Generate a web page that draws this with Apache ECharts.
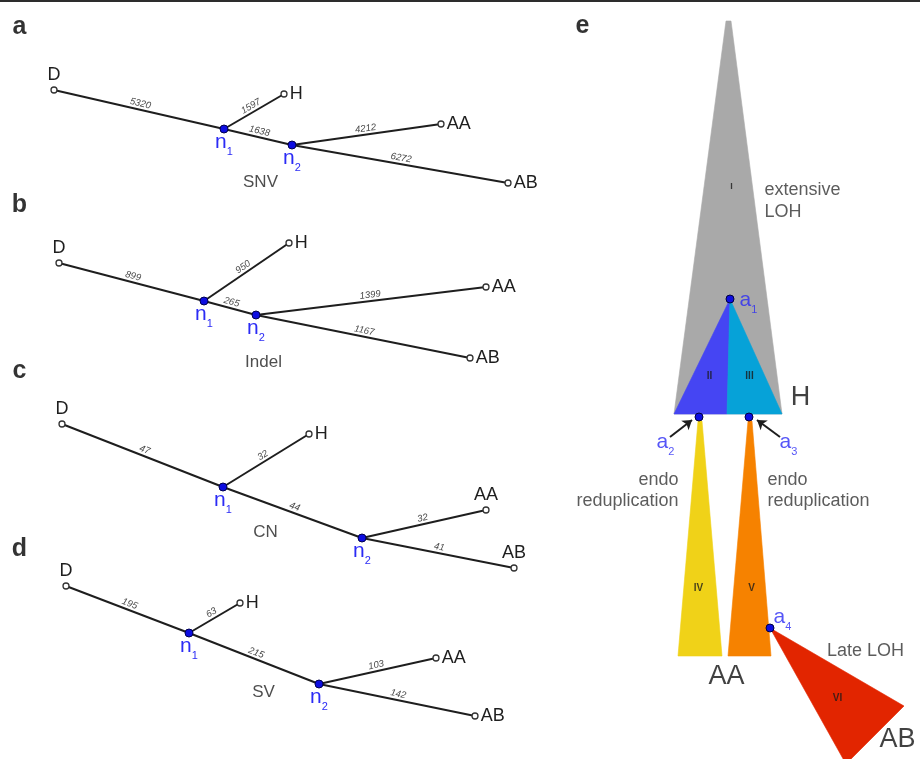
<!DOCTYPE html>
<html>
<head>
<meta charset="utf-8">
<script src="https://cdn.jsdelivr.net/npm/echarts@6/dist/echarts.min.js"></script>
<style>
  html, body { margin: 0; padding: 0; background: #fff; }
  #chart { width: 920px; height: 759px; }
</style>
</head>
<body>
<div id="chart"></div>
<script>
// ---------- Trees a–d: node order D, H, n1, n2, AA, AB ----------
const nodeNames = ['D', 'H', 'n1', 'n2', 'AA', 'AB'];
const edgePairs = [['D', 'n1'], ['n1', 'H'], ['n1', 'n2'], ['n2', 'AA'], ['n2', 'AB']];

const snvX = [54, 284, 224, 292, 441, 508];
const snvY = [90, 94, 129, 145, 124, 183];
const snvBranch = [5320, 1597, 1638, 4212, 6272];

const indelX = [59, 289, 204, 256, 486, 470];
const indelY = [263, 243, 301, 315, 287, 358];
const indelBranch = [899, 950, 265, 1399, 1167];

const cnX = [62, 309, 223, 362, 486, 514];
const cnY = [424, 434, 487, 538, 510, 568];
const cnBranch = [47, 32, 44, 32, 41];

const svX = [66, 240, 189, 319, 436, 475];
const svY = [586, 603, 633, 684, 658, 716];
const svBranch = [195, 63, 215, 103, 142];

const treeTitles = ['SNV', 'Indel', 'CN', 'SV'];

// ---------- Panel e: clone wedges I–VI ----------
const wedgeNames = ['I', 'II', 'III', 'IV', 'V', 'VI'];
const wedgeX = [[726, 731, 782, 674], [730, 727, 674], [730, 782, 727],
                [698, 702, 722, 678], [748, 752, 771, 728], [770, 904, 846]];
const wedgeY = [[21, 21, 414, 414], [299, 414, 414], [299, 414, 414],
                [421, 421, 656, 656], [421, 421, 656, 656], [628, 706, 764]];

// branch points a1–a4
const branchNames = ['a1', 'a2', 'a3', 'a4'];
const branchX = [730, 699, 749, 770];
const branchY = [299, 417, 417, 628];

// arrows pointing at a2 and a3
const arrowStartX = [670, 780];
const arrowStartY = [437, 437];
const arrowEndX = [692, 757];
const arrowEndY = [420, 420];

// ---------- layout (label placement) ----------
const FONT = 'Liberation Sans, Arial, Helvetica, sans-serif';
const BLUE = '#2b2bf5';
const INK = '#1e1e1e';

const treeLayout = [
  { xs: snvX, ys: snvY, br: snvBranch, title: [261, 183], letter: [20, 28], tipTop: ['D'] },
  { xs: indelX, ys: indelY, br: indelBranch, title: [264, 363], letter: [20, 206], tipTop: ['D'] },
  { xs: cnX, ys: cnY, br: cnBranch, title: [266, 533], letter: [20, 372], tipTop: ['D', 'AA', 'AB'] },
  { xs: svX, ys: svY, br: svBranch, title: [264, 693], letter: [20, 550], tipTop: ['D'] }
];

const subRich = (size, subSize, color, pad) => ({
  m: { fontSize: size, color: color, fontFamily: FONT, verticalAlign: 'bottom', padding: [0, 0, pad, 0] },
  s: { fontSize: subSize, color: color, fontFamily: FONT, verticalAlign: 'bottom' }
});

const series = [];

// panel e wedges (drawn first, beneath everything)
series.push({
  type: 'custom',
  clip: false,
  silent: true,
  z: 1,
  data: wedgeX.map((xs, i) => [xs[0], wedgeY[i][0]]),
  encode: { x: 0, y: 1 },
  renderItem: (params, api) => {
    const i = params.dataIndex;
    const colors = ['#a9a9a9', '#4545f3', '#06a2d8', '#f0d218', '#f68200', '#e22500'];
    const pts = wedgeX[i].map((x, k) => api.coord([x, wedgeY[i][k]]));
    return {
      type: 'polygon',
      shape: { points: pts },
      style: { fill: colors[i], stroke: colors[i], lineWidth: 0.6 }
    };
  }
});

// wedge roman numerals
const wedgeLabelX = [732, 710, 750, 699, 752, 838];
const wedgeLabelY = [187, 377, 377, 589, 589, 699];

// trees
treeLayout.forEach((t) => {
  const idx = name => nodeNames.indexOf(name);
  const edges = edgePairs.map((p, k) => {
    let a = idx(p[0]), b = idx(p[1]);
    if (t.xs[a] > t.xs[b]) { const tmp = a; a = b; b = tmp; }
    return { coords: [[t.xs[a], t.ys[a]], [t.xs[b], t.ys[b]]], value: t.br[k] };
  });
  series.push({
    type: 'lines',
    coordinateSystem: 'cartesian2d',
    silent: true,
    z: 2,
    symbol: 'none',
    lineStyle: { color: INK, width: 2, opacity: 1 },
    label: {
      show: true,
      position: 'insideMiddleTop',
      distance: 1,
      formatter: p => String(p.data.value),
      fontSize: 9.5,
      fontStyle: 'italic',
      color: '#4a4a4a',
      fontFamily: FONT
    },
    data: edges
  });

  // tip nodes
  const tips = ['D', 'H', 'AA', 'AB'].map(n => {
    const i = idx(n);
    const top = t.tipTop.includes(n);
    return {
      name: n,
      value: [t.xs[i], t.ys[i]],
      label: { position: top ? 'top' : 'right', distance: 2 }
    };
  });
  series.push({
    type: 'scatter',
    silent: true,
    z: 4,
    symbol: 'circle',
    symbolSize: 6,
    itemStyle: { color: '#fff', borderColor: '#333', borderWidth: 1.3, opacity: 1 },
    label: { show: true, formatter: p => p.name, fontSize: 18, color: INK, fontFamily: FONT },
    data: tips
  });

  // internal nodes n1, n2
  series.push({
    type: 'scatter',
    silent: true,
    z: 4,
    symbol: 'circle',
    symbolSize: 8,
    itemStyle: { color: '#0d0de0', borderColor: '#000050', borderWidth: 1, opacity: 1 },
    label: {
      show: true,
      position: 'bottom',
      distance: -2,
      formatter: p => '{m|n}{s|' + p.name.slice(1) + '}',
      rich: subRich(21, 11, BLUE, 5)
    },
    data: ['n1', 'n2'].map(n => ({ name: n, value: [t.xs[idx(n)], t.ys[idx(n)]] }))
  });
});

// arrows to a2 / a3
series.push({
  type: 'lines',
  coordinateSystem: 'cartesian2d',
  silent: true,
  z: 5,
  symbol: ['none', 'arrow'],
  symbolSize: 9,
  lineStyle: { color: INK, width: 2, opacity: 1 },
  data: arrowStartX.map((x, i) => ({ coords: [[x, arrowStartY[i]], [arrowEndX[i], arrowEndY[i]]] }))
});

// branch point dots
series.push({
  type: 'scatter',
  silent: true,
  z: 6,
  symbol: 'circle',
  symbolSize: 8,
  itemStyle: { color: '#0d0de0', borderColor: '#000040', borderWidth: 1, opacity: 1 },
  label: { show: false },
  data: branchX.map((x, i) => ({ name: branchNames[i], value: [x, branchY[i]] }))
});

// free-standing text
const texts = [];
const addText = (x, y, text, opt) => texts.push(Object.assign({ x, y, text }, opt));

['a', 'b', 'c', 'd'].forEach((l, i) =>
  addText(treeLayout[i].letter[0], treeLayout[i].letter[1], l, { size: 25, weight: 'bold', color: '#000' }));
addText(583, 27, 'e', { size: 25, weight: 'bold', color: '#000' });
treeTitles.forEach((s, i) =>
  addText(treeLayout[i].title[0], treeLayout[i].title[1], s, { size: 17, color: '#222' }));

wedgeNames.forEach((s, i) =>
  addText(wedgeLabelX[i], wedgeLabelY[i], s, { size: i === 0 ? 9 : 10, weight: 'bold', color: '#1a1a1a' }));

addText(765, 202, 'extensive\nLOH', { size: 18, color: '#333', align: 'left', lineHeight: 22 });
addText(679, 491, 'endo\nreduplication', { size: 18, color: '#333', align: 'right', lineHeight: 21 });
addText(768, 491, 'endo\nreduplication', { size: 18, color: '#333', align: 'left', lineHeight: 21 });
addText(866, 652, 'Late LOH', { size: 18, color: '#333' });
addText(801, 398, 'H', { size: 27, color: '#111' });
addText(727, 677, 'AA', { size: 27, color: '#111' });
addText(898, 740, 'AB', { size: 27, color: '#111' });

// a1..a4 labels
const aLabelX = [740, 657, 780, 774];
const aLabelY = [303, 445, 445, 620];
branchNames.forEach((n, i) =>
  addText(aLabelX[i], aLabelY[i], '{m|a}{s|' + n.slice(1) + '}', { align: 'left', rich: subRich(21, 11, BLUE, 5) }));

series.push({
  type: 'scatter',
  silent: true,
  z: 7,
  symbol: 'circle',
  symbolSize: 1,
  itemStyle: { color: 'rgba(0,0,0,0)' },
  data: texts.map(t => ({
    value: [t.x, t.y],
    label: {
      show: true,
      position: [0, 0],
      align: t.align || 'center',
      verticalAlign: 'middle',
      formatter: t.text,
      fontSize: t.size || 14,
      fontWeight: t.weight || 'normal',
      color: t.color || INK,
      fontFamily: FONT,
      lineHeight: t.lineHeight,
      rich: t.rich
    }
  }))
});

const chart = echarts.init(document.getElementById('chart'));
chart.setOption({
  animation: false,
  backgroundColor: '#fff',
  grid: { left: 0, right: 0, top: 0, bottom: 0 },
  xAxis: { type: 'value', min: 0, max: 920, show: false },
  yAxis: { type: 'value', min: 0, max: 759, inverse: true, show: false },
  graphic: [{ type: 'rect', shape: { x: 0, y: 0, width: 920, height: 2 }, style: { fill: '#2d2d2d' }, z: 100 }],
  series: series
});
</script>
</body>
</html>
